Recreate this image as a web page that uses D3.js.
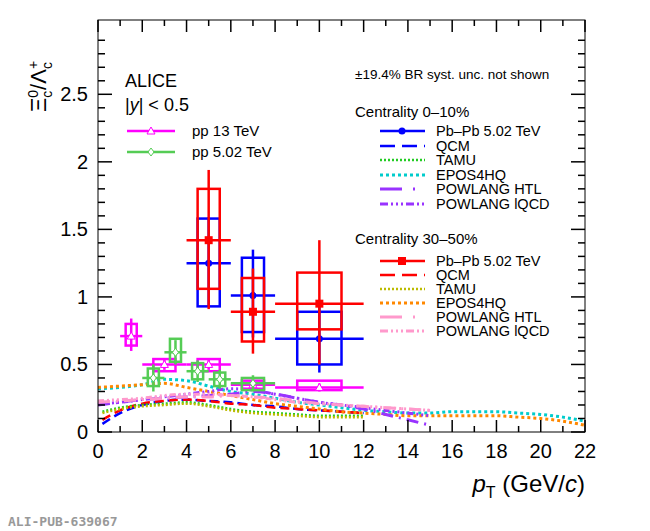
<!DOCTYPE html>
<html lang="en">
<head>
<meta charset="UTF-8">
<title>Xi_c / Lambda_c</title>
<script src="https://d3js.org/d3.v7.min.js"></script>
<style>
  body { margin: 0; background: white; font-family: 'Liberation Sans', Arial, sans-serif; }
</style>
</head>
<body>
<svg width="650" height="531"></svg>
<script>
// measured points: [pT, y, xlo, xhi, statLo, statHi, sysLo, sysHi, boxHalfWidth]
const pbpb010 = [
  [5, 1.25, 4, 6, 0.93, 1.59, 0.93, 1.58, 0.5],
  [7, 1.01, 6, 8, 0.70, 1.35, 0.74, 1.29, 0.5],
  [10, 0.69, 8, 12, 0.44, 0.94, 0.50, 0.89, 1.0]
];
const pbpb3050 = [
  [5, 1.42, 4, 6, 0.91, 1.94, 1.06, 1.80, 0.5],
  [7, 0.89, 6, 8, 0.58, 1.21, 0.67, 1.14, 0.5],
  [10, 0.95, 8, 12, 0.50, 1.42, 0.76, 1.18, 1.0]
];
const pp13 = [
  [1.5, 0.71, 1, 2, 0.60, 0.84, 0.64, 0.80, 0.25],
  [3, 0.50, 2, 4, 0.46, 0.54, 0.45, 0.54, 0.5],
  [5, 0.50, 4, 6, 0.46, 0.54, 0.45, 0.54, 0.5],
  [7, 0.35, 6, 8, 0.31, 0.39, 0.32, 0.38, 0.5],
  [10, 0.33, 8, 12, 0.30, 0.36, 0.31, 0.38, 1.0]
];
const pp502 = [
  [2.5, 0.40, 2, 3, 0.30, 0.50, 0.34, 0.47, 0.25],
  [3.5, 0.59, 3, 4, 0.50, 0.68, 0.52, 0.69, 0.25],
  [4.5, 0.45, 4, 5, 0.37, 0.53, 0.39, 0.51, 0.25],
  [5.5, 0.39, 5, 6, 0.32, 0.46, 0.34, 0.44, 0.25],
  [7, 0.36, 6, 8, 0.30, 0.42, 0.31, 0.40, 0.5]
];

// model curves, pT grid and values
const gridLow = [0.2, 1, 2, 3, 4, 5, 6, 7, 8, 9, 10, 11, 12];
const qcm010 = [0.06, 0.14, 0.20, 0.23, 0.24, 0.23, 0.22, 0.20, 0.19, 0.17, 0.16, 0.15, 0.14];
const qcm3050 = [0.09, 0.16, 0.21, 0.23, 0.24, 0.23, 0.21, 0.20, 0.18, 0.17, 0.16, 0.15, 0.14];
const tamu010 = [0.15, 0.18, 0.20, 0.21, 0.22, 0.20, 0.17, 0.15, 0.14, 0.13, 0.12, 0.12, 0.12];
const tamu3050 = [0.14, 0.17, 0.19, 0.20, 0.21, 0.19, 0.16, 0.14, 0.13, 0.12, 0.11, 0.11, 0.11];
const gridEpos = [0, 1, 2, 3, 4, 5, 6, 7, 8, 9, 10, 11, 12, 13, 14, 15, 16, 17, 18, 19, 20, 21, 22];
const epos010 = [0.32, 0.33, 0.35, 0.39, 0.38, 0.34, 0.30, 0.28, 0.25, 0.22, 0.20, 0.18, 0.16, 0.15, 0.14, 0.14, 0.15, 0.15, 0.15, 0.14, 0.13, 0.11, 0.08];
const epos3050 = [0.33, 0.34, 0.35, 0.36, 0.33, 0.30, 0.27, 0.24, 0.21, 0.19, 0.17, 0.15, 0.14, 0.13, 0.12, 0.12, 0.12, 0.12, 0.12, 0.11, 0.10, 0.08, 0.05];
const gridPow = [0, 1, 2, 3, 4, 5, 6, 7, 8, 9, 10, 11, 12, 13, 14, 15];
const powHtl010 = [0.20, 0.22, 0.24, 0.25, 0.26, 0.27, 0.28, 0.30, 0.28, 0.25, 0.22, 0.20, 0.17, 0.13, 0.09, 0.05];
const powLqcd010 = [0.21, 0.22, 0.24, 0.26, 0.28, 0.30, 0.32, 0.31, 0.28, 0.25, 0.22, 0.20, 0.18, 0.16, 0.14, 0.12];
const powHtl3050 = [0.22, 0.23, 0.24, 0.25, 0.26, 0.26, 0.27, 0.26, 0.25, 0.23, 0.21, 0.20, 0.19, 0.18, 0.17, 0.16];
const powLqcd3050 = [0.23, 0.24, 0.25, 0.27, 0.28, 0.28, 0.27, 0.26, 0.24, 0.22, 0.21, 0.20, 0.19, 0.18, 0.17, 0.16];

const xTicks = d3.range(0, 23, 2);
const yTicks = [0, 0.5, 1, 1.5, 2, 2.5];

const svg = d3.select("svg");
const x = d3.scaleLinear().domain([0, 22]).range([98, 585]);
const y = d3.scaleLinear().domain([0, 3.05]).range([432, 20]);

const models = [
  [gridLow, qcm010, "#0000ff", "9,5", 2.5],
  [gridLow, qcm3050, "#ff0000", "9,5", 2.5],
  [gridLow, tamu010, "#22cc22", "2,2", 2.5],
  [gridLow, tamu3050, "#bbbb00", "2,2", 2.5],
  [gridEpos, epos010, "#00cccc", "3,3", 3],
  [gridEpos, epos3050, "#ff8800", "3,3", 3],
  [gridPow, powHtl010, "#9933ff", "12,6,2,6", 3],
  [gridPow, powLqcd010, "#9933ff", "6,3,2,3,2,3,2,3", 3],
  [gridPow, powHtl3050, "#ff99cc", "12,6,2,6", 3],
  [gridPow, powLqcd3050, "#ff99cc", "6,3,2,3,2,3,2,3", 3]
];
const line = d3.line().curve(d3.curveMonotoneX);
models.forEach(([gx, gy, col, dash, w]) => {
  svg.append("path")
    .attr("d", line(gx.map((v, i) => [x(v), y(gy[i])])))
    .attr("fill", "none").attr("stroke", col)
    .attr("stroke-dasharray", dash).attr("stroke-width", w);
});

function drawSet(data, col, marker) {
  const g = svg.append("g");
  data.forEach(d => {
    const [px, py, xl, xh, sl, sh, bl, bh, hw] = d;
    g.append("rect").attr("x", x(px - hw)).attr("y", y(bh))
      .attr("width", x(px + hw) - x(px - hw)).attr("height", y(bl) - y(bh))
      .attr("fill", "none").attr("stroke", col).attr("stroke-width", 2.5);
    g.append("line").attr("x1", x(xl)).attr("x2", x(xh)).attr("y1", y(py)).attr("y2", y(py))
      .attr("stroke", col).attr("stroke-width", 2.5);
    g.append("line").attr("x1", x(px)).attr("x2", x(px)).attr("y1", y(sl)).attr("y2", y(sh))
      .attr("stroke", col).attr("stroke-width", 2.5);
    marker(g, x(px), y(py), col);
  });
}
const circ = (g, cx, cy, c) => g.append("circle").attr("cx", cx).attr("cy", cy).attr("r", 3.5).attr("fill", c);
const sq = (g, cx, cy, c) => g.append("rect").attr("x", cx - 4).attr("y", cy - 4).attr("width", 8).attr("height", 8).attr("fill", c);
const tri = (g, cx, cy, c) => g.append("path").attr("d", `M${cx},${cy - 4}L${cx + 4},${cy + 3}L${cx - 4},${cy + 3}Z`).attr("fill", "white").attr("stroke", c).attr("stroke-width", 1);
const dia = (g, cx, cy, c) => g.append("path").attr("d", `M${cx},${cy - 4}L${cx + 3},${cy}L${cx},${cy + 4}L${cx - 3},${cy}Z`).attr("fill", "white").attr("stroke", c).attr("stroke-width", 1);

drawSet(pp13, "#ff00ff", tri);
drawSet(pp502, "#55cc55", dia);
drawSet(pbpb010, "#0000ff", circ);
drawSet(pbpb3050, "#ff0000", sq);

// frame and axes
svg.append("rect").attr("x", 98).attr("y", 20).attr("width", 487).attr("height", 412)
  .attr("fill", "none").attr("stroke", "black").attr("stroke-width", 1);
const ax = svg.append("g").attr("stroke", "black").attr("stroke-width", 1.5);
d3.range(0, 22.01, 1).forEach(v => {
  const len = v % 2 === 0 ? 12 : 6;
  ax.append("line").attr("x1", x(v)).attr("x2", x(v)).attr("y1", 432).attr("y2", 432 - len);
  ax.append("line").attr("x1", x(v)).attr("x2", x(v)).attr("y1", 20).attr("y2", 20 + len);
});
d3.range(0, 30).forEach(i => {
  const v = i / 10;
  const len = i % 5 === 0 ? 14 : 7;
  ax.append("line").attr("y1", y(v)).attr("y2", y(v)).attr("x1", 98).attr("x2", 98 + len);
  ax.append("line").attr("y1", y(v)).attr("y2", y(v)).attr("x1", 585).attr("x2", 585 - len);
});
svg.selectAll(".xt").data(xTicks).enter().append("text")
  .attr("x", d => x(d)).attr("y", 458).attr("text-anchor", "middle")
  .attr("font-size", 20).text(d => d);
svg.selectAll(".yt").data(yTicks).enter().append("text")
  .attr("x", 88).attr("y", d => y(d) + 7).attr("text-anchor", "end")
  .attr("font-size", 20).text(d => d);

// axis titles
svg.append("text").attr("x", 585).attr("y", 492).attr("text-anchor", "end").attr("font-size", 24)
  .html('<tspan font-style="italic">p</tspan><tspan font-size="16" dy="6">T</tspan><tspan dy="-6"> (GeV/</tspan><tspan font-style="italic">c</tspan>)');
svg.append("text").attr("transform", "translate(46,112) rotate(-90)").attr("font-size", 22)
  .html('<tspan>Ξ</tspan><tspan font-size="14" dy="6">c</tspan><tspan font-size="14" dy="-14" dx="-7">0</tspan><tspan dy="8">/Λ</tspan><tspan font-size="14" dy="6">c</tspan><tspan font-size="14" dy="-14" dx="-7">+</tspan>');

svg.append("text").attr("x", 8).attr("y", 526).attr("font-size", 13).attr("font-weight", "bold")
  .attr("font-family", "'DejaVu Sans Mono', monospace").attr("fill", "#999").text("ALI-PUB-639067");

// left legend
svg.append("text").attr("x", 125).attr("y", 87).attr("font-size", 18).text("ALICE");
svg.append("text").attr("x", 125).attr("y", 111).attr("font-size", 18)
  .html('|<tspan font-style="italic">y</tspan>| &lt; 0.5');
[["pp 13 TeV", "#ff00ff", tri, 131], ["pp 5.02 TeV", "#55cc55", dia, 152]].forEach(([t, c, m, yy]) => {
  svg.append("line").attr("x1", 127).attr("x2", 175).attr("y1", yy).attr("y2", yy).attr("stroke", c).attr("stroke-width", 2.5);
  m(svg, 151, yy, c);
  svg.append("text").attr("x", 192).attr("y", yy + 5).attr("font-size", 15).text(t);
});

// right legend
svg.append("text").attr("x", 355).attr("y", 79).attr("font-size", 13.5).text("±19.4% BR syst. unc. not shown");
function legendBlock(title, ty, rows, col, marker, entries) {
  svg.append("text").attr("x", 355).attr("y", ty).attr("font-size", 15).text(title);
  entries.forEach((e, i) => {
    const yy = rows[i];
    const l = svg.append("line").attr("x1", 380).attr("x2", 425).attr("y1", yy).attr("y2", yy)
      .attr("stroke", e[1]).attr("stroke-width", e[3] || 2.5);
    if (e[2]) l.attr("stroke-dasharray", e[2]);
    if (i === 0) marker(svg, 402, yy, col);
    svg.append("text").attr("x", 436).attr("y", yy + 5).attr("font-size", 14.5).text(e[0]);
  });
}
legendBlock("Centrality 0–10%", 117, [131, 146, 160, 175, 189, 204], "#0000ff", circ, [
  ["Pb–Pb 5.02 TeV", "#0000ff"], ["QCM", "#0000ff", "15,7"], ["TAMU", "#22cc22", "2,2"],
  ["EPOS4HQ", "#00cccc", "3,3", 3], ["POWLANG HTL", "#9933ff", "22,11,2,20", 3],
  ["POWLANG lQCD", "#9933ff", "8,3,2,3,2,3,2,3", 3]
]);
legendBlock("Centrality 30–50%", 244, [261, 275, 289, 303, 317, 331], "#ff0000", sq, [
  ["Pb–Pb 5.02 TeV", "#ff0000"], ["QCM", "#ff0000", "15,7"], ["TAMU", "#bbbb00", "2,2"],
  ["EPOS4HQ", "#ff8800", "3,3", 3], ["POWLANG HTL", "#ff99cc", "22,11,2,20", 3],
  ["POWLANG lQCD", "#ff99cc", "8,3,2,3,2,3,2,3", 3]
]);
</script>
</body>
</html>
